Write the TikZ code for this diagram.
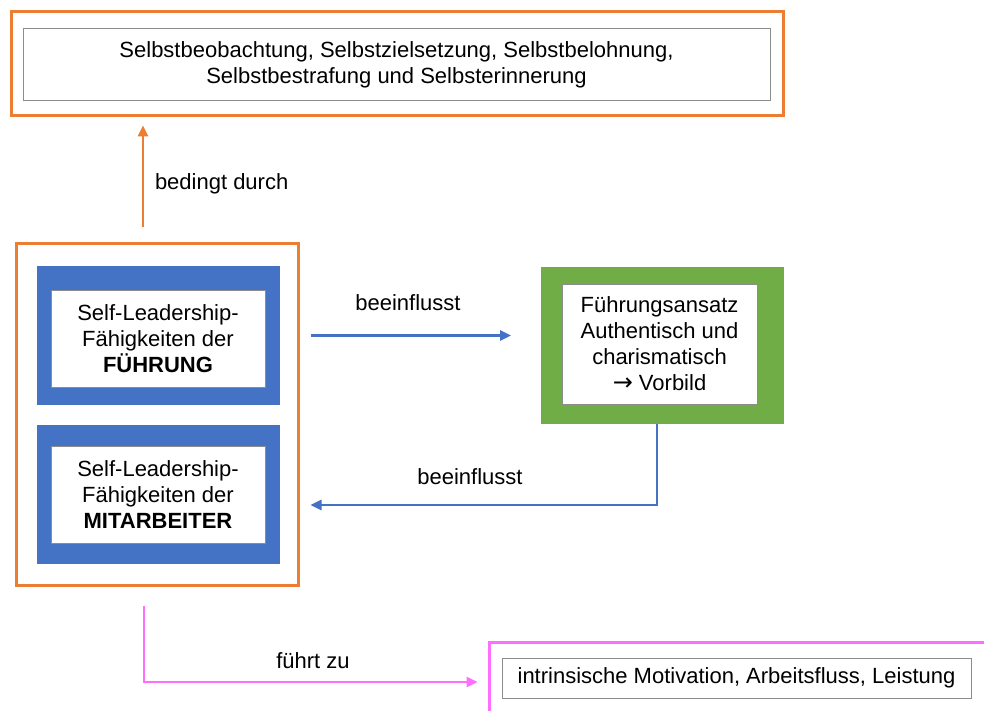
\documentclass[tikz,border=0pt]{standalone}
\usepackage{fontspec}
\setmainfont{Liberation Sans}
\newfontfamily\symfont{DejaVu Sans}
\usetikzlibrary{arrows.meta,calc}
\definecolor{orangeline}{RGB}{237,125,49}
\definecolor{bluefill}{RGB}{68,114,196}
\definecolor{greenfill}{RGB}{112,173,71}
\definecolor{pinkline}{RGB}{255,110,255}
\definecolor{boxgray}{RGB}{140,140,140}
\tikzset{
  every node/.style={font=\fontsize{22}{26}\selectfont, inner sep=0pt, outer sep=0pt},
  frameorange/.style={draw=orangeline, line width=3pt, rectangle},
  framepink/.style={draw=pinkline, line width=3pt, rectangle},
  whitebox/.style={draw=boxgray, line width=1pt, fill=white, rectangle, align=center},
  bluebox/.style={fill=bluefill, rectangle},
  greenbox/.style={fill=greenfill, rectangle},
  conn/.style={line width=2.5pt, -{Triangle[length=11pt,width=10pt]}},
  label/.style={align=center}
}
\begin{document}
\begin{tikzpicture}[x=1pt,y=-1pt]
\clip (0,0) rectangle (984,711);
\fill[white] (0,0) rectangle (984,711);

% upper box: self-management strategies
\node[frameorange, minimum width=772pt, minimum height=104pt] (top) at (397.5,63.5) {};
\node[whitebox, minimum width=747pt, minimum height=72pt] (topin) at (396.5,65)
  {Selbstbeobachtung, Selbstzielsetzung, Selbstbelohnung,\\Selbstbestrafung und Selbsterinnerung};

% left frame with the two self-leadership boxes
\node[frameorange, minimum width=282pt, minimum height=342pt] (mid) at (157.5,414.5) {};
\node[bluebox, minimum width=243pt, minimum height=139pt] (lead1) at (158.5,335.5) {};
\node[whitebox, minimum width=214pt, minimum height=97pt] (lead1in) at (158,338.5)
  {Self-Leadership-\\Fähigkeiten der\\\textbf{FÜHRUNG}};
\node[bluebox, minimum width=243pt, minimum height=139pt] (lead2) at (158.5,494.5) {};
\node[whitebox, minimum width=214pt, minimum height=97pt] (lead2in) at (158,494.5)
  {Self-Leadership-\\Fähigkeiten der\\\textbf{MITARBEITER}};

% leadership approach
\node[greenbox, minimum width=243pt, minimum height=157pt] (green) at (662.5,345.5) {};
\node[whitebox, minimum width=195pt, minimum height=120pt] (greenin) at (659.5,344)
  {Führungsansatz\\Authentisch und\\charismatisch\\{\symfont\fontsize{24}{26}\selectfont →} Vorbild};

% outcome box at the lower right
\node[framepink, minimum width=530pt, minimum height=100pt, anchor=north west] (pink) at (489.5,642.5) {};
\node[whitebox, minimum width=469pt, minimum height=40pt] (pinkin) at (736.5,678)
  {intrinsische Motivation, Arbeitsfluss, Leistung};

% connectors
\coordinate (upx) at (143,0);
\draw[conn, draw=orangeline, shorten <=16pt, shorten >=10pt]
  (upx |- mid.north) -- (upx |- top.south);
\node[label, anchor=west] at (155,184) {bedingt durch};

\draw[conn, draw=bluefill, shorten <=12pt, shorten >=30pt]
  (lead1.center -| mid.east) -- (lead1.center -| green.west);
\node[label] at (408,303) {beeinflusst};

\coordinate (retY) at (0,505);
\draw[conn, draw=bluefill, shorten >=12pt]
  ([xshift=-5.5pt]green.south) |- (retY -| mid.east);
\node[label] at (470,477) {beeinflusst};

\coordinate (outY) at (0,682);
\draw[conn, draw=pinkline, shorten >=12pt]
  ([xshift=-13.5pt, yshift=-20pt]mid.south) |- (outY -| pink.west);
\node[label] at (313,661) {führt zu};
\end{tikzpicture}
\end{document}
